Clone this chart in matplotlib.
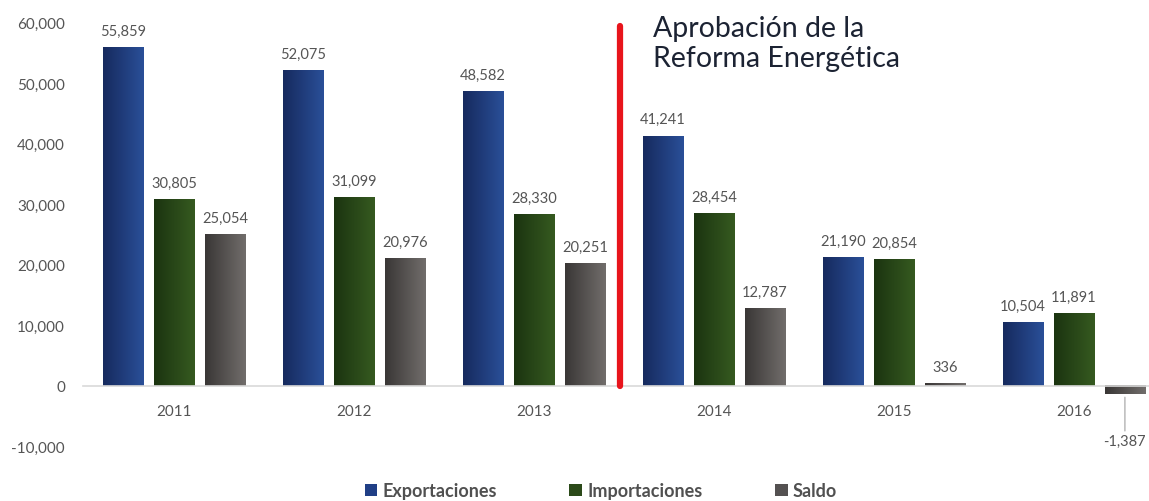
import matplotlib
matplotlib.use("Agg")
import matplotlib.pyplot as plt
import numpy as np
from matplotlib.colors import LinearSegmentedColormap
from matplotlib.patches import Patch

# Data
years = ['2011', '2012', '2013', '2014', '2015', '2016']
exportaciones = [55859, 52075, 48582, 41241, 21190, 10504]
importaciones = [30805, 31099, 28330, 28454, 20854, 11891]
saldo = [25054, 20976, 20251, 12787, 336, -1387]
series_names = ['Exportaciones', 'Importaciones', 'Saldo']
reform_label = 'Aprobación de la\nReforma Energética'

plt.rcParams['font.family'] = ['Lato', 'DejaVu Sans']

# gradient colors (left -> right) for each series
grad_colors = [('#162a5e', '#2a4f98'),
               ('#1b3410', '#365a20'),
               ('#3a3736', '#716d6b')]
legend_colors = ['#203f86', '#2b4a19', '#545151']

fig = plt.figure(figsize=(11.49, 5.02), dpi=100)
ax = fig.add_axes([0.0722, 0.0837, 0.9278, 0.8865])

x = np.arange(len(years))
width = 0.225
step = 0.283
grad = np.linspace(0, 1, 64).reshape(1, -1)

for i, vals in enumerate([exportaciones, importaciones, saldo]):
    cmap = LinearSegmentedColormap.from_list('g%d' % i, grad_colors[i])
    bars = ax.bar(x + (i - 1) * step, vals, width, color='none', edgecolor='none')
    for rect, v in zip(bars, vals):
        x0 = rect.get_x()
        x1 = x0 + rect.get_width()
        y0, y1 = sorted([0, v])
        ax.imshow(grad, extent=[x0, x1, y0, y1], aspect='auto', cmap=cmap, zorder=2)
        cx = x0 + rect.get_width() / 2
        if v >= 0:
            ax.annotate(f'{v:,}', xy=(cx, v), xytext=(0, 7), textcoords='offset points',
                        ha='center', va='bottom', fontsize=10.5, color='#555555')
        else:
            # label below negative bar with leader line
            ax.annotate(f'{v:,}', xy=(cx, v - 500), xytext=(0, -26), textcoords='offset points',
                        ha='center', va='top', fontsize=10.5, color='#555555',
                        arrowprops=dict(arrowstyle='-', color='#bfbfbf', lw=1.2,
                                        shrinkA=0, shrinkB=0))

# reform line
reform_x = 2.48
ax.plot([reform_x, reform_x], [0, 59400], color='#e8141c', lw=4.5,
        solid_capstyle='round', zorder=3)
ax.text(reform_x + 0.18, 61200, reform_label, ha='left', va='top', fontsize=20.5,
        color='#1c2333', linespacing=1.2)

ax.set_xlim(-0.506, 5.417)
ax.set_ylim(-12046, 61386)
ax.set_yticks(np.arange(-10000, 60001, 10000))
ax.set_yticklabels([f'{t:,}' for t in range(-10000, 60001, 10000)])
ax.set_xticks(x)
ax.set_xticklabels(years)

for s in ['top', 'right', 'left']:
    ax.spines[s].set_visible(False)
ax.spines['bottom'].set_position(('data', 0))
ax.spines['bottom'].set_color('#d9d9d9')
ax.spines['bottom'].set_linewidth(1.2)
ax.tick_params(axis='y', length=0, pad=13, labelsize=11, labelcolor='#555555')
ax.tick_params(axis='x', length=0, pad=13, labelsize=11, labelcolor='#555555')

handles = [Patch(facecolor=c, edgecolor='none') for c in legend_colors]
fig.legend(handles, series_names, loc='center', bbox_to_anchor=(0.523, 0.02), ncol=3,
           frameon=False, prop={'size': 13, 'weight': 'bold'}, handlelength=0.7,
           handleheight=0.7, handletextpad=0.3, columnspacing=4.0, labelcolor='#505050')

fig.savefig('out.png', dpi=100)
